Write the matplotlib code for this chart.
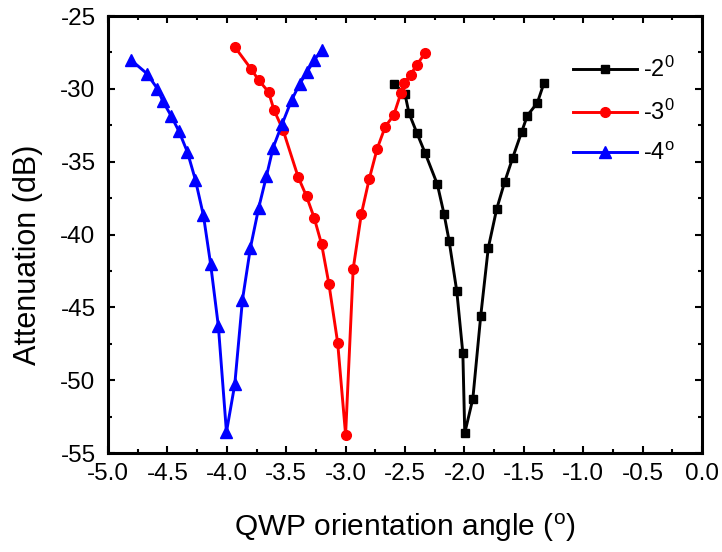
# Atenuación frente al ángulo de orientación de la QWP
import matplotlib
matplotlib.use("Agg")
import matplotlib.pyplot as plt
import matplotlib.ticker as mticker

# ── Fuentes ──────────────────────────────────────────────────
plt.rcParams["font.family"] = "Liberation Sans"
plt.rcParams["mathtext.fontset"] = "custom"
plt.rcParams["mathtext.rm"] = "Liberation Sans"
plt.rcParams["mathtext.it"] = "Liberation Sans:italic"
plt.rcParams["axes.unicode_minus"] = False

# ── Datos ────────────────────────────────────────────────────
x_2 = [-2.595, -2.500, -2.466, -2.399, -2.331, -2.228, -2.171, -2.129, -2.064,
       -2.013, -1.997, -1.929, -1.863, -1.799, -1.728, -1.661, -1.593, -1.517,
       -1.470, -1.386, -1.329]
y_2 = [-29.64, -30.37, -31.68, -33.05, -34.40, -36.55, -38.61, -40.42, -43.90,
       -48.16, -53.63, -51.27, -45.62, -40.92, -38.24, -36.39, -34.72, -32.93,
       -31.83, -30.96, -29.57]

x_3 = [-3.933, -3.798, -3.731, -3.649, -3.602, -3.526, -3.400, -3.329, -3.265,
       -3.202, -3.141, -3.067, -3.000, -2.936, -2.868, -2.801, -2.734, -2.666,
       -2.595, -2.534, -2.508, -2.452, -2.401, -2.331]
y_3 = [-27.12, -28.61, -29.41, -30.21, -31.47, -32.84, -36.04, -37.38, -38.84,
       -40.67, -43.37, -47.42, -53.74, -42.34, -38.61, -36.18, -34.10, -32.59,
       -31.81, -30.28, -29.61, -29.02, -28.35, -27.55]

x_4 = [-4.804, -4.673, -4.585, -4.538, -4.467, -4.403, -4.332, -4.265, -4.197,
       -4.136, -4.071, -4.003, -3.933, -3.868, -3.801, -3.731, -3.666, -3.610,
       -3.535, -3.455, -3.385, -3.324, -3.265, -3.200]
y_4 = [-28.04, -28.95, -29.98, -30.85, -31.88, -32.91, -34.33, -36.23, -38.68,
       -42.05, -46.30, -53.56, -50.29, -44.47, -40.90, -38.15, -35.98, -34.03,
       -32.43, -30.78, -29.64, -28.83, -28.04, -27.30]

etiquetas = ["-2$\\mathregular{^0}$", "-3$\\mathregular{^0}$", "-4$\\mathregular{^o}$"]

# ── Figura ───────────────────────────────────────────────────
fig = plt.figure(figsize=(7.22, 5.52), dpi=100)
ax = fig.add_axes([0.1496, 0.1793, 0.8227, 0.7917])

lw = 2.1
ax.plot(x_2, y_2, color="black", lw=lw, marker="s", ms=6.2, label=etiquetas[0])
ax.plot(x_3, y_3, color="#FF0000", lw=lw, marker="o", ms=7, label=etiquetas[1])
ax.plot(x_4, y_4, color="#0000FF", lw=lw, marker="^", ms=8, label=etiquetas[2])

ax.set_xlim(-5.0, 0.0)
ax.set_ylim(-55, -25)
ax.xaxis.set_major_locator(mticker.MultipleLocator(0.5))
ax.xaxis.set_minor_locator(mticker.MultipleLocator(0.25))
ax.yaxis.set_major_locator(mticker.MultipleLocator(5))
ax.yaxis.set_minor_locator(mticker.MultipleLocator(2.5))
ax.xaxis.set_major_formatter(mticker.FormatStrFormatter("%.1f"))
ax.yaxis.set_major_formatter(mticker.FormatStrFormatter("%d"))

ax.tick_params(which="both", direction="in", top=True, right=True, width=1.5)
ax.tick_params(which="major", length=5)
ax.tick_params(which="minor", length=3)
ax.tick_params(axis="x", which="major", labelsize=17.5, pad=7)
ax.tick_params(axis="y", which="major", labelsize=17.5, pad=9)
for s in ax.spines.values():
    s.set_linewidth(2.2)

ax.set_xlabel("QWP orientation angle ($\\mathregular{^o}$)", fontsize=21.5)
ax.set_ylabel("Attenuation (dB)", fontsize=22)
ax.xaxis.set_label_coords(0.5, -0.135)
ax.yaxis.set_label_coords(-0.109, 0.454)

ax.legend(loc="upper left", bbox_to_anchor=(0.783, 0.906), frameon=False,
          fontsize=17, handlelength=2.7, handletextpad=0.27, labelspacing=0.75,
          borderpad=0, borderaxespad=0)

fig.savefig("out.png", dpi=100)
